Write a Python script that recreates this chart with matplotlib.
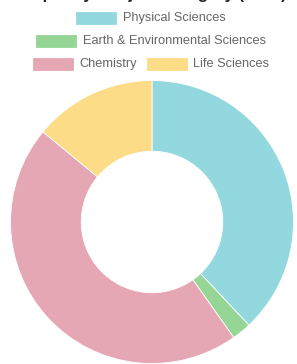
import matplotlib
matplotlib.use('Agg')
import matplotlib.pyplot as plt
from matplotlib.patches import Rectangle

# data (share of the ring, %)
labels = ['Physical Sciences', 'Earth & Environmental Sciences', 'Chemistry', 'Life Sciences']
shares = [38.0, 2.2, 45.8, 14.0]
colors = ['#93D8DF', '#95D596', '#E6A7B5', '#FCDC86']
title = 'Output by Subject Category (2016)'

W, H = 297, 364
fig = plt.figure(figsize=(W / 100, H / 100), dpi=100)
plt.rcParams['font.family'] = ['Liberation Sans', 'DejaVu Sans']

# doughnut, centre and radius in pixels
cx, cy, r = 152, 222, 141.5
ax = fig.add_axes([(cx - r) / W, (H - cy - r) / H, 2 * r / W, 2 * r / H])
ax.pie(shares, colors=colors, startangle=90, counterclock=False, radius=1,
       wedgeprops=dict(width=0.5, edgecolor='white', linewidth=0.6))
ax.set_xlim(-1, 1)
ax.set_ylim(-1, 1)
ax.axis('off')

# overlay in pixel coordinates for title + legend
ov = fig.add_axes([0, 0, 1, 1])
ov.set_xlim(0, W)
ov.set_ylim(H, 0)
ov.axis('off')

# the title sits mostly above the canvas, only descenders show
ov.text(150, -0.5, title, ha='center', va='baseline', fontsize=12,
        fontweight='bold', color='#222222', clip_on=False)

fs = 9.2
box_w, box_h, gap, pad = 40, 12, 6.5, 10
renderer = fig.canvas.get_renderer()
widths = []
for lab in labels:
    t = ov.text(0, 0, lab, fontsize=fs)
    widths.append(t.get_window_extent(renderer).width)
    t.remove()

# wrap items into centred rows like a Chart.js legend
rows, cur, cur_w = [], [], 0
for i, tw in enumerate(widths):
    iw = box_w + gap + tw
    extra = iw if not cur else iw + pad
    if cur and cur_w + extra > W - 20:
        rows.append((cur, cur_w))
        cur, cur_w = [i], iw
    else:
        cur.append(i)
        cur_w += extra
rows.append((cur, cur_w))

y = 18
for items, rw in rows:
    x = 151 - rw / 2
    for i in items:
        ov.add_patch(Rectangle((x, y - box_h / 2), box_w, box_h,
                               facecolor=colors[i], edgecolor=colors[i], linewidth=0.6))
        ov.text(x + box_w + gap, y, labels[i], fontsize=fs, color='#666666',
                ha='left', va='center')
        x += box_w + gap + widths[i] + pad
    y += 23

fig.savefig('out.png', dpi=100)
